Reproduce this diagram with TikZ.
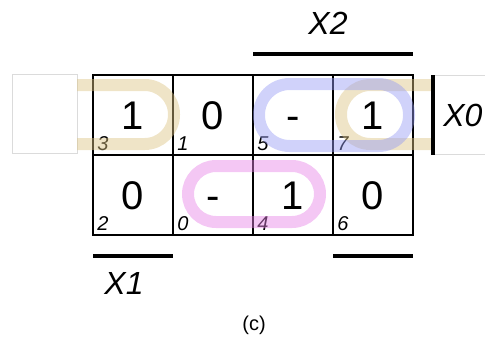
\documentclass[tikz,border=0pt]{standalone}
\usepackage{fontspec}
\setmainfont{Liberation Sans}
\usetikzlibrary{calc,positioning}

\definecolor{loopyellow}{RGB}{220,195,130}
\definecolor{loopblue}{RGB}{150,155,245}
\definecolor{looppink}{RGB}{230,130,230}

\begin{document}
\begin{tikzpicture}[x=0.75pt, y=-0.75pt]

\tikzset{
  cell/.style={
    draw,
    line width=1.1pt,
    minimum size=60pt,
    outer sep=0pt,
    inner sep=0pt,
    text height=21.5pt,
    text depth=0pt,
    font=\fontsize{30}{30}\selectfont
  },
  idx/.style={
    anchor=south west,
    inner sep=3pt,
    font=\fontsize{15}{15}\selectfont\itshape
  },
  varlabel/.style={
    font=\fontsize{24}{24}\selectfont\itshape
  },
  bar/.style={
    line width=3pt
  },
  wrapbox/.style={
    draw=black!14,
    line width=0.5pt
  },
  kloop/.style={
    line width=9pt,
    line cap=butt,
    draw opacity=0.45
  }
}

\useasboundingbox (0,0) rectangle (485,343);

% Wrap-around boxes
\draw[wrapbox] (12,74) rectangle (77,153);
\draw[wrapbox] (431,75) rectangle (497,154);

% Nodes cells, top row
\node[cell] (c3) at (133,115) {1};
\node[cell] (c1) at (213,115) {0};
\node[cell] (c5) at (293,115) {-};
\node[cell] (c7) at (373,115) {1};

% Nodes cells, bottom row
\node[cell] (c2) at (133,195) {0};
\node[cell] (c0) at (213,195) {-};
\node[cell] (c4) at (293,195) {1};
\node[cell] (c6) at (373,195) {0};

% Nodes indices
\node[idx] (i3) at (c3.south west) {3};
\node[idx] (i1) at (c1.south west) {1};
\node[idx] (i5) at (c5.south west) {5};
\node[idx] (i7) at (c7.south west) {7};
\node[idx] (i2) at (c2.south west) {2};
\node[idx] (i0) at (c0.south west) {0};
\node[idx] (i4) at (c4.south west) {4};
\node[idx] (i6) at (c6.south west) {6};

% Loops
\draw[kloop, draw=loopyellow, rounded corners=22pt]
(77,85) -| (174,144) -- (77,144);
\draw[kloop, draw=loopyellow, rounded corners=22pt]
(431,85) -| (341,144) -- (431,144);
\draw[kloop, draw=loopblue, rounded corners=23pt]
(259,84) rectangle (409,146);
\draw[kloop, draw=looppink, rounded corners=21pt]
(188,166) rectangle (320,222);

% Bars
\draw[bar] ([yshift=15.75pt]c5.north west) -- ([yshift=15.75pt]c7.north east);
\draw[bar] ([xshift=15pt]c7.north east) -- ([xshift=15pt]c7.south east);
\draw[bar] ([yshift=-15.75pt]c2.south west) -- ([yshift=-15.75pt]c2.south east);
\draw[bar] ([yshift=-15.75pt]c6.south west) -- ([yshift=-15.75pt]c6.south east);

% Nodes variables
\node[varlabel] (x2) at (328,23) {X2};
\node[varlabel, anchor=west, inner sep=0pt] (x0) at (443,115) {X0};
\node[varlabel] (x1) at (124,283) {X1};

% Caption
\node[font=\fontsize{15}{15}\selectfont] (cap) at (254,325) {(c)};

\end{tikzpicture}
\end{document}
